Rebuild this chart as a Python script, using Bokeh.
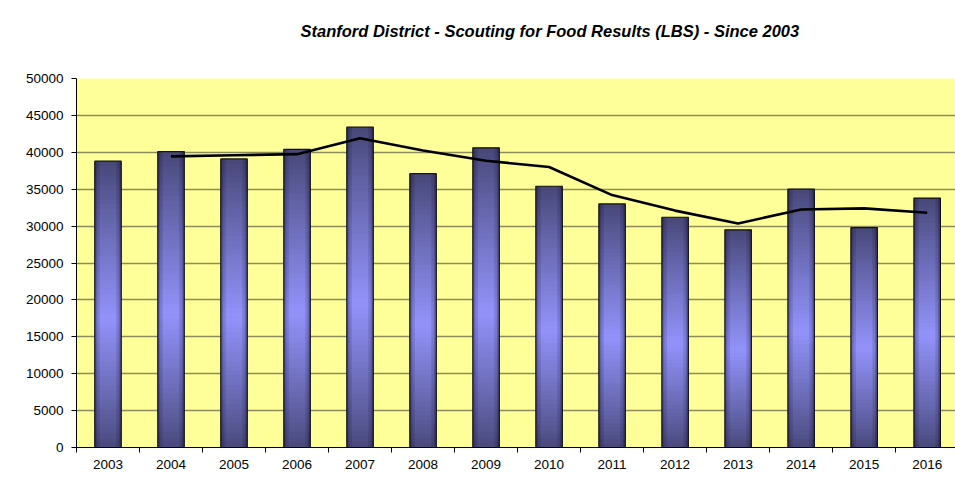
from bokeh.plotting import figure
from bokeh.models import ColumnDataSource, FixedTicker, Range1d, Title
from bokeh.transform import dodge
from bokeh.embed import file_html
from bokeh.resources import INLINE

# ---- data ----
years = [2003, 2004, 2005, 2006, 2007, 2008, 2009, 2010, 2011, 2012, 2013, 2014, 2015, 2016]
lbs = [38800, 40100, 39100, 40400, 43400, 37100, 40600, 35400, 33000, 31200, 29500, 35000, 29800, 33800]
trend_years = [2004, 2005, 2006, 2007, 2008, 2009, 2010, 2011, 2012, 2013, 2014, 2015, 2016]
trend_lbs = [39450, 39600, 39750, 41900, 40250, 38850, 38000, 34200, 32100, 30350, 32250, 32400, 31800]
y_ticks = [0, 5000, 10000, 15000, 20000, 25000, 30000, 35000, 40000, 45000, 50000]
title_text = "Stanford District - Scouting for Food Results (LBS) - Since 2003"

FONT = "Liberation Sans"
BAR_W = 0.42

xs = list(range(len(years)))
trend_x = [years.index(y) for y in trend_years]

p = figure(width=955, height=490, output_backend="svg", toolbar_location=None,
           x_range=Range1d(-0.5, len(years) - 0.55), y_range=Range1d(0, 50000),
           min_border_left=76, min_border_right=0, min_border_top=78, min_border_bottom=43)
p.title = None
# blank spacer title (nearest the frame) to lift the real title upward
p.add_layout(Title(text=" ", text_font=FONT, text_font_size="10px", standoff=26), "above")
p.add_layout(Title(text=title_text, text_font=FONT, text_font_size="16.5px",
                   text_font_style="bold italic", text_color="#000000",
                   align="left", vertical_align="bottom", offset=224, standoff=0), "above")

p.background_fill_color = "#FFFF99"
p.border_fill_color = "white"
p.outline_line_color = None

# gridlines
p.xgrid.grid_line_color = None
p.ygrid.grid_line_color = "#8c8c5c"
p.ygrid.grid_line_width = 1.3
p.ygrid.ticker = FixedTicker(ticks=y_ticks)

# y axis
p.yaxis.ticker = FixedTicker(ticks=y_ticks)
p.yaxis.axis_line_color = "#000000"
p.yaxis.major_tick_out = 5
p.yaxis.major_tick_in = 0
p.yaxis.minor_tick_line_color = None
p.yaxis.major_label_text_font = FONT
p.yaxis.major_label_text_font_size = "13.5px"
p.yaxis.major_label_text_color = "#000000"
p.yaxis.major_label_standoff = 8

# x axis: labels at centres, tick marks at category boundaries
p.xaxis.ticker = FixedTicker(ticks=xs, minor_ticks=[i - 0.5 for i in range(len(years) + 1)])
p.xaxis.major_label_overrides = {i: str(y) for i, y in zip(xs, years)}
p.xaxis.axis_line_color = "#000000"
p.xaxis.major_tick_line_color = None
p.xaxis.minor_tick_line_color = "#000000"
p.xaxis.minor_tick_out = 5
p.xaxis.minor_tick_in = 0
p.xaxis.major_label_text_font = FONT
p.xaxis.major_label_text_font_size = "13.5px"
p.xaxis.major_label_text_color = "#000000"
p.xaxis.major_label_standoff = 6

# bars with vertical gradient (dark - light - dark)
dark_top = (70, 70, 118)
dark_bot = (72, 72, 122)
light = (146, 146, 250)
N = 60
peak = 0.45
for i in range(N):
    t = (i + 0.5) / N
    if t < peak:
        f = 1 - (peak - t) / peak
        base = dark_bot
    else:
        f = 1 - (t - peak) / (1 - peak)
        base = dark_top
    f = f ** 0.9
    col = tuple(int(round(base[k] + (light[k] - base[k]) * f)) for k in range(3))
    src = ColumnDataSource(dict(
        x=xs,
        bottom=[v * i / N for v in lbs],
        top=[v * min(i + 1.6, N) / N for v in lbs],
    ))
    p.vbar(x="x", bottom="bottom", top="top", width=BAR_W, source=src,
           fill_color="#%02x%02x%02x" % col, line_color=None)

# horizontal shading toward bar edges
bsrc = ColumnDataSource(dict(x=xs, top=lbs))
for off, w, a in [(0.19, 0.04, 0.28), (0.15, 0.04, 0.12)]:
    for s in (-1, 1):
        p.vbar(x=dodge("x", s * off, range=p.x_range), bottom=0, top="top", width=w,
               source=bsrc, fill_color="#000020", fill_alpha=a, line_color=None)

# bar outlines
p.vbar(x="x", bottom=0, top="top", width=BAR_W, source=bsrc,
       fill_color=None, line_color="#111111", line_width=1.2)

# moving-average trend line
p.line(trend_x, trend_lbs, line_color="#000000", line_width=2.6)

open("out.html", "w").write(file_html(p, INLINE))
